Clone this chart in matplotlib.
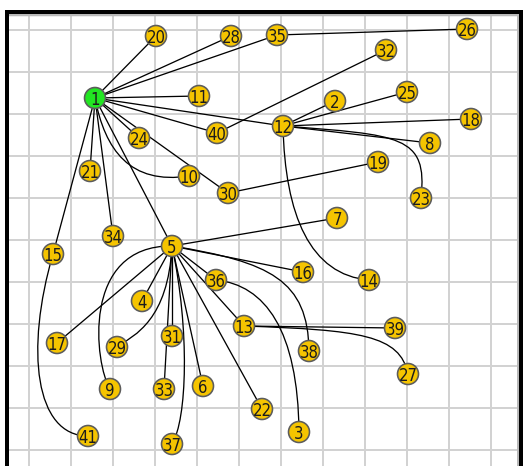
#!/usr/bin/env python3
"""Redraw the node-link diagram (41 nodes on a grid canvas) with matplotlib."""
import matplotlib

matplotlib.use("Agg")
import matplotlib.pyplot as plt
import numpy as np
from matplotlib import font_manager
from matplotlib.collections import LineCollection
from matplotlib.patches import PathPatch
from matplotlib.path import Path

# node layout in canvas units (y grows downward, like the screen)
node_ids = list(range(1, 42))
node_x = [95, 335, 299, 142, 172, 203, 337, 430, 110, 189, 199, 283, 244, 369, 53, 303, 57,
          471, 378, 156, 90, 262, 421, 139, 407, 467, 408, 231, 117, 228, 172, 386, 164, 113,
          277, 216, 172, 309, 395, 217, 88]
node_y = [98, 101, 432, 301, 246, 386, 218, 143, 389, 176, 96, 126, 326, 280, 254, 272, 343,
          119, 162, 36, 171, 409, 198, 138, 92, 29, 374, 36, 347, 193, 336, 50, 389, 236,
          35, 280, 444, 351, 328, 133, 436]
root_node = 1

straight_edges = [
    (1, 20), (1, 28), (1, 35), (1, 11), (1, 12), (1, 40), (1, 24), (1, 30), (1, 21),
    (1, 34), (1, 5), (1, 15), (35, 26), (40, 32), (30, 19), (12, 2), (12, 25), (12, 18),
    (12, 8), (5, 7), (5, 16), (5, 36), (5, 13), (5, 22), (5, 6), (5, 31), (5, 33),
    (5, 4), (5, 17), (13, 39),
]

# curved links: (source, target) plus the two bezier handles of each
curved_edges = [(1, 10), (12, 14), (12, 23), (5, 38), (36, 3), (13, 27), (5, 37), (5, 29),
                (5, 9), (15, 41)]
curve_handles = [
    ((105, 150), (130, 185)),
    ((285, 215), (310, 275)),
    ((400, 135), (428, 135)),
    ((270, 262), (308, 280)),
    ((265, 285), (298, 330)),
    ((360, 330), (400, 335)),
    ((190, 330), (187, 420)),
    ((168, 320), (135, 335)),
    ((80, 245), (95, 365)),
    ((25, 350), (35, 436)),
]

W, H, DPI = 524, 466, 100
PX = 72.0 / DPI  # one pixel in points


def pick_label_font():
    """Prefer a condensed DejaVu if the machine has one."""
    for f in font_manager.fontManager.ttflist:
        if f.name == "DejaVu Sans" and f.stretch not in ("normal", 500) and f.style == "normal" \
                and f.weight in ("normal", 400):
            return {"family": "DejaVu Sans", "fontstretch": f.stretch, "fontsize": 12}
    return {"family": "DejaVu Sans", "fontsize": 11}


def main():
    pos = {n: (x, y) for n, x, y in zip(node_ids, node_x, node_y)}

    fig = plt.figure(figsize=(W / DPI, H / DPI), dpi=DPI)
    # canvas frame spans px 7..521 horizontally, 12..480 vertically (bottom cut off)
    ax = fig.add_axes([7 / W, 1 - 480 / H, 514 / W, 468 / H])
    ax.set_xlim(7, 521)
    ax.set_ylim(480, 12)

    ax.set_xticks(np.arange(29, 521, 42))
    ax.set_yticks(np.arange(30, 480, 42))
    ax.tick_params(length=0, labelbottom=False, labelleft=False)
    ax.grid(True, color="#d2d2d2", linewidth=2 * PX)
    ax.set_axisbelow(True)
    for side in ("left", "top", "right"):
        ax.spines[side].set_linewidth(4 * PX)
        ax.spines[side].set_color("black")
    ax.spines["bottom"].set_visible(False)
    ax.axhline(15.5, color="#b9b9b9", linewidth=2.5 * PX, zorder=1)
    ax.axvline(517.5, color="#b9b9b9", linewidth=3 * PX, zorder=1)

    segs = [[pos[a], pos[b]] for a, b in straight_edges]
    ax.add_collection(LineCollection(segs, colors="black", linewidths=1.3 * PX, zorder=2))

    for (a, b), (c1, c2) in zip(curved_edges, curve_handles):
        path = Path([pos[a], c1, c2, pos[b]], [Path.MOVETO, Path.CURVE4, Path.CURVE4, Path.CURVE4])
        ax.add_patch(PathPatch(path, facecolor="none", edgecolor="black",
                               linewidth=1.3 * PX, zorder=2))

    colors = ["#22e622" if n == root_node else "#f5c400" for n in node_ids]
    ax.scatter(node_x, node_y, s=(21 * PX) ** 2, c=colors, edgecolors="#5c5c5c",
               linewidths=1.6 * PX, zorder=3)

    font = pick_label_font()
    for n, x, y in zip(node_ids, node_x, node_y):
        ax.text(x, y, str(n), ha="center", va="center_baseline", color="#1c1c1c",
                zorder=4, **font)

    fig.savefig("out.png", dpi=DPI)
    plt.close(fig)


if __name__ == "__main__":
    main()
